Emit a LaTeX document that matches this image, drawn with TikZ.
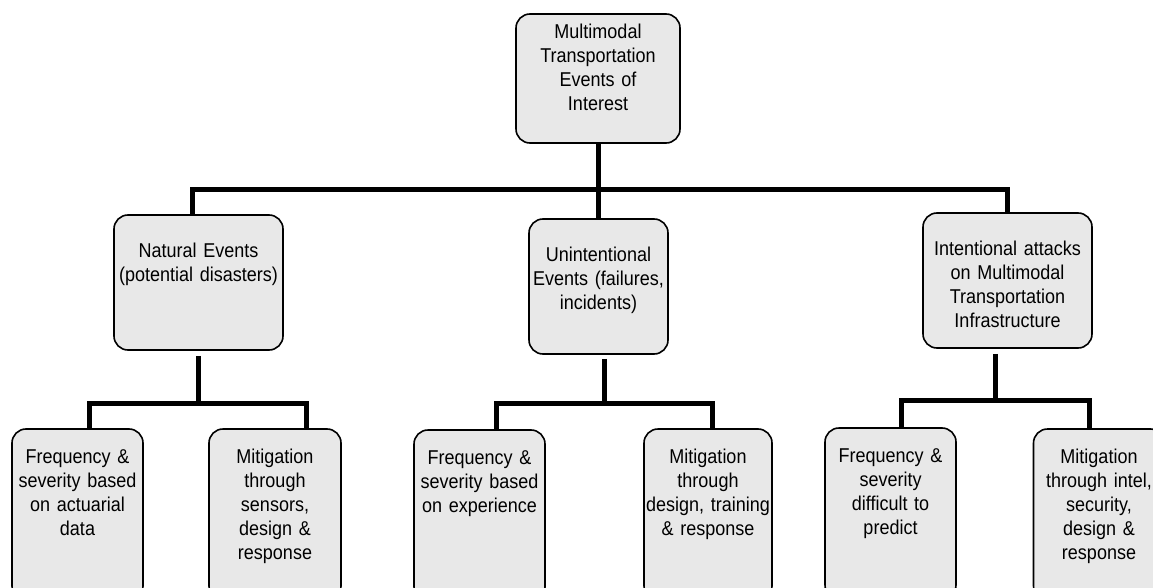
\documentclass[tikz,border=0pt]{standalone}
\usepackage{fontspec}
\setmainfont{Liberation Sans}[FakeStretch=0.9]
\usepackage{tikz}
\usetikzlibrary{calc}
\definecolor{eventgray}{RGB}{232, 232, 232}
\tikzset{
    event/.style={rectangle, draw, line width=1.6pt, fill=eventgray, rounded corners=14pt, inner sep=0pt, text width=#1pt, align=center, font=\fontsize{20pt}{24pt}\selectfont},
    rootsize/.style={text height=25pt, text depth=104pt},
    midsize/.style={text height=42pt, text depth=93pt},
    leafsize/.style={text height=34pt, text depth=137pt},
    link/.style={draw, line width=5pt}
}

\begin{document}
\begin{tikzpicture}[x=1pt, y=1pt]
        \useasboundingbox (0,0) rectangle (1153,-588);
        \clip (0,0) rectangle (1153,-588);

        % Top event
        \node[event=164, rootsize] (root) at (598,-78.5) {Multimodal\\Transportation\\Events of\\Interest};

        % Three event classes
        \node[event=169, midsize] (natural) at (198.5,-282.5) {Natural Events\\(potential disasters)};
        \node[event=139, midsize] (unintended) at (598.5,-286.5) {Unintentional\\Events (failures,\\incidents)};
        \node[event=169, midsize] (intentional) at (1007.5,-280.5) {Intentional attacks\\on Multimodal\\Transportation\\Infrastructure};

        % Leaves
        \node[event=131, leafsize] (natfreq) at (77.5,-514.5) {Frequency \&\\severity based\\on actuarial\\data};
        \node[event=132, leafsize] (natmit) at (275,-514.5) {Mitigation\\through\\sensors,\\design \&\\response};
        \node[event=131, leafsize] (unfreq) at (479.5,-515.5) {Frequency \&\\severity based\\on experience};
        \node[event=128, leafsize] (unmit) at (708,-514.5) {Mitigation\\through\\design, training\\\& response};
        \node[event=131, leafsize] (intfreq) at (890.5,-513.5) {Frequency \&\\severity\\difficult to\\predict};
        \node[event=131, leafsize] (intmit) at (1099,-514.5) {Mitigation\\through intel,\\security,\\design \&\\response};

        % Tree links
        \draw[link] (root.south) -- ++(0,-46) coordinate (hub);
        \draw[link] ([xshift=-6.5pt]natural.north) |- (hub) -| (intentional.north);
        \draw[link] (hub) -- (hub|-unintended.north);

        \draw[link, shorten <=5pt] (natural.south) -- ++(0,-53) coordinate (natfork);
        \draw[link] ([xshift=11.5pt]natfreq.north) |- (natfork) -| ([xshift=31pt]natmit.north);

        \draw[link, shorten <=4pt] ([xshift=5.5pt]unintended.south) -- ++(0,-49) coordinate (unfork);
        \draw[link] ([xshift=16.5pt]unfreq.north) |- (unfork) -| ([xshift=4pt]unmit.north);

        \draw[link, shorten <=5pt] ([xshift=-12.5pt]intentional.south) -- ++(0,-52) coordinate (intfork);
        \draw[link] ([xshift=10.5pt]intfreq.north) |- (intfork) -| ([xshift=-10pt]intmit.north);
    \end{tikzpicture}
\end{document}
